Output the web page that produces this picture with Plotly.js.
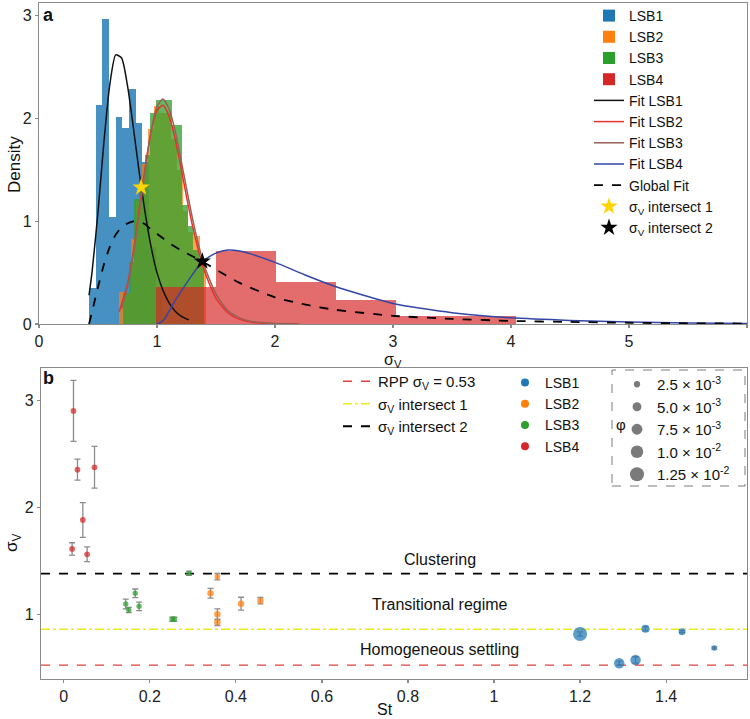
<!DOCTYPE html>
<html>
<head>
<meta charset="utf-8">
<script src="https://cdn.plot.ly/plotly-3.0.1.min.js"></script>
<style>
  html, body { margin: 0; padding: 0; background: #fff; }
  #chart { width: 750px; height: 719px; }
</style>
</head>
<body>
<div id="chart"></div>
<script>
// ---------- Panel a: velocity-fluctuation histograms (density) ----------
const lsb1Edges = [0.424, 0.4805, 0.537, 0.5935, 0.65, 0.7065, 0.763, 0.8195, 0.876, 0.9325, 0.989, 1.0455];
const lsb1Density = [0.35, 2.13, 2.97, 1.045, 2.02, 1.905, 2.285, 1.955, 1.58, 0.75, 0.35];

const lsb2Edges = [0.678, 0.727, 0.776, 0.825, 0.874, 0.923, 0.972, 1.021, 1.07, 1.119, 1.168, 1.217, 1.266, 1.315, 1.364, 1.413];
const lsb2Density = [0.31, 0.30, 0.83, 1.20, 1.56, 1.90, 2.12, 2.05, 2.05, 1.80, 1.50, 1.10, 0.90, 0.86, 0.62];

const lsb3Edges = [0.715, 0.7605, 0.806, 0.8515, 0.897, 0.9425, 0.988, 1.0335, 1.079, 1.1245, 1.17, 1.2155, 1.261, 1.3065, 1.352, 1.3975];
const lsb3Density = [0.30, 0.60, 1.22, 1.40, 1.65, 2.05, 2.18, 2.18, 2.18, 1.94, 1.94, 1.16, 0.95, 0.72, 0.58];

const lsb4Edges = [0.995, 1.503, 2.011, 2.519, 3.027, 3.535, 4.043];
const lsb4Density = [0.36, 0.71, 0.41, 0.23, 0.08, 0.08];

// fitted distributions
const fit1X = [0.424, 0.45, 0.5, 0.55, 0.6, 0.65, 0.7, 0.75, 0.8, 0.85, 0.9, 0.95, 1.0, 1.05, 1.1, 1.15, 1.2, 1.27];
const fit1Y = [0.28, 0.51, 1.09, 1.77, 2.33, 2.62, 2.59, 2.32, 1.91, 1.47, 1.08, 0.75, 0.50, 0.33, 0.21, 0.13, 0.08, 0.04];

const fit2X = [0.68, 0.75, 0.8, 0.85, 0.9, 0.95, 1.0, 1.05, 1.1, 1.15, 1.2, 1.25, 1.3, 1.35, 1.4, 1.5, 1.6, 1.7, 1.8, 2.0, 2.2];
const fit2Y = [0.12, 0.39, 0.71, 1.12, 1.53, 1.87, 2.08, 2.13, 2.03, 1.82, 1.54, 1.24, 0.96, 0.72, 0.52, 0.25, 0.11, 0.045, 0.018, 0.003, 0.0];

const fit3X = [0.7, 0.75, 0.8, 0.85, 0.9, 0.95, 1.0, 1.05, 1.1, 1.15, 1.2, 1.25, 1.3, 1.35, 1.4, 1.5, 1.6, 1.7, 1.8, 2.0, 2.2];
const fit3Y = [0.15, 0.36, 0.68, 1.08, 1.50, 1.88, 2.12, 2.19, 2.10, 1.90, 1.62, 1.32, 1.03, 0.78, 0.57, 0.29, 0.13, 0.06, 0.025, 0.005, 0.001];

const fit4X = [1.0, 1.05, 1.1, 1.15, 1.2, 1.3, 1.384, 1.5, 1.6, 1.7, 1.8, 2.0, 2.25, 2.5, 2.75, 3.0, 3.25, 3.5, 4.0, 4.5, 5.0, 5.5, 6.0];
const fit4Y = [0.0, 0.03, 0.12, 0.22, 0.31, 0.48, 0.61, 0.69, 0.72, 0.71, 0.68, 0.60, 0.48, 0.37, 0.28, 0.20, 0.15, 0.11, 0.06, 0.035, 0.02, 0.01, 0.005];

const globalX = [0.424, 0.45, 0.5, 0.55, 0.6, 0.65, 0.7, 0.75, 0.8, 0.85, 0.9, 0.95, 1.0, 1.1, 1.2, 1.3, 1.384, 1.5, 1.7, 2.0, 2.25, 2.5, 3.0, 3.5, 4.0, 4.5, 5.0, 5.5, 6.0];
const globalY = [0.0, 0.12, 0.36, 0.58, 0.75, 0.87, 0.94, 0.98, 1.0, 1.0, 0.97, 0.92, 0.88, 0.79, 0.72, 0.66, 0.61, 0.53, 0.40, 0.26, 0.19, 0.14, 0.08, 0.05, 0.03, 0.02, 0.012, 0.007, 0.004];

// intersections of the fitted curves
const intersect1 = { sigma: 0.865, density: 1.33 };
const intersect2 = { sigma: 1.384, density: 0.61 };

// ---------- Panel b: sigma_v against Stokes number ----------
const rppSigma = 0.53;

const lsb1St    = [1.2, 1.291, 1.329, 1.352, 1.437, 1.512];
const lsb1Sigma = [0.821, 0.547, 0.578, 0.870, 0.842, 0.690];
const lsb1Err   = [0.02, 0.02, 0.03, 0.02, 0.01, 0.01];
const lsb1Phi   = [0.0125, 0.0070, 0.0070, 0.0041, 0.0031, 0.0019];

const lsb2St    = [0.357, 0.341, 0.357, 0.357, 0.412, 0.457];
const lsb2Sigma = [1.356, 1.201, 1.005, 0.930, 1.104, 1.132];
const lsb2Err   = [0.03, 0.045, 0.05, 0.03, 0.06, 0.03];
const lsb2Phi   = [0.0020, 0.0027, 0.0027, 0.0027, 0.0027, 0.0027];

const lsb3St    = [0.144, 0.151, 0.166, 0.175, 0.252, 0.257, 0.291];
const lsb3Sigma = [1.101, 1.045, 1.201, 1.079, 0.958, 0.958, 1.388];
const lsb3Err   = [0.045, 0.025, 0.04, 0.04, 0.02, 0.02, 0.02];
const lsb3Phi   = [0.0019, 0.0019, 0.0019, 0.0019, 0.0019, 0.0019, 0.0016];

const lsb4St    = [0.0225, 0.0318, 0.0714, 0.0442, 0.0193, 0.0542];
const lsb4Sigma = [2.905, 2.356, 2.378, 1.886, 1.615, 1.565];
const lsb4Err   = [0.285, 0.098, 0.195, 0.162, 0.058, 0.069];
const lsb4Phi   = [0.0021, 0.0021, 0.0021, 0.0021, 0.0021, 0.0021];

const phiLegendValues = [0.0025, 0.005, 0.0075, 0.01, 0.0125];
const phiLegendLabels = ['2.5 × 10<sup>-3</sup>', '5.0 × 10<sup>-3</sup>', '7.5 × 10<sup>-3</sup>',
                         '1.0 × 10<sup>-2</sup>', '1.25 × 10<sup>-2</sup>'];

// ---------- styling ----------
const FONT = '"Liberation Sans", Arial, Helvetica, sans-serif';
const TAB = { blue: '#1f77b4', orange: '#ff7f0e', green: '#2ca02c', red: '#d62728' };
const AXIS_GREY = '#8a8a8a';
const stRange = [-0.053, 1.588];
const sigmaRangeB = [0.40, 3.306];

// marker diameter grows with the square root of the volume fraction
const phiToSize = phi => 125 * Math.sqrt(phi);

const centers = e => e.slice(0, -1).map((v, i) => (v + e[i + 1]) / 2);
const widths  = e => e.slice(0, -1).map((v, i) => e[i + 1] - v);

const traces = [];

// histograms
[
  ['LSB1', lsb1Edges, lsb1Density, TAB.blue, 0.82],
  ['LSB2', lsb2Edges, lsb2Density, TAB.orange, 0.72],
  ['LSB3', lsb3Edges, lsb3Density, TAB.green, 0.75],
  ['LSB4', lsb4Edges, lsb4Density, TAB.red, 0.68]
].forEach(([name, edges, dens, color, op]) => {
  traces.push({
    type: 'bar', name, x: centers(edges), y: dens, width: widths(edges),
    marker: { color, opacity: op, line: { width: 0 } },
    xaxis: 'x', yaxis: 'y', legend: 'legend', hoverinfo: 'skip'
  });
});

// fitted curves
[
  ['Fit LSB1', fit1X, fit1Y, '#111111', 'solid'],
  ['Fit LSB2', fit2X, fit2Y, '#e8322b', 'solid'],
  ['Fit LSB3', fit3X, fit3Y, '#9a5f55', 'solid'],
  ['Fit LSB4', fit4X, fit4Y, '#3346a6', 'solid'],
  ['Global Fit', globalX, globalY, '#000000', 'dash']
].forEach(([name, x, y, color, dash]) => {
  traces.push({
    type: 'scatter', mode: 'lines', name, x, y,
    line: { color, width: dash === 'dash' ? 1.8 : 1.5, dash, shape: 'spline', smoothing: 0.6 },
    xaxis: 'x', yaxis: 'y', legend: 'legend', hoverinfo: 'skip'
  });
});

// intersection stars
traces.push({
  type: 'scatter', mode: 'markers', name: 'σ<sub>V</sub> intersect 1',
  x: [intersect1.sigma], y: [intersect1.density],
  marker: { symbol: 'star', size: 13, color: '#FFD400', line: { width: 0 } },
  xaxis: 'x', yaxis: 'y', legend: 'legend'
});
traces.push({
  type: 'scatter', mode: 'markers', name: 'σ<sub>V</sub> intersect 2',
  x: [intersect2.sigma], y: [intersect2.density],
  marker: { symbol: 'star', size: 13, color: '#000000', line: { width: 0 } },
  xaxis: 'x', yaxis: 'y', legend: 'legend'
});

// regime boundaries in panel b
[
  ['RPP σ<sub>V</sub> = 0.53', rppSigma, '#e0403a', 'dash', 1.4],
  ['σ<sub>V</sub> intersect 1', intersect1.sigma, '#ecec1a', 'dashdot', 1.6],
  ['σ<sub>V</sub> intersect 2', intersect2.sigma, '#000000', 'dash', 1.8]
].forEach(([name, v, color, dash, w], i) => {
  traces.push({
    type: 'scatter', mode: 'lines', name, x: stRange, y: [v, v],
    line: { color, dash, width: w },
    xaxis: 'x2', yaxis: 'y2', legend: 'legend2', legendgroup: 'g' + i, hoverinfo: 'skip'
  });
});

// measurements with error bars
[
  ['LSB1', lsb1St, lsb1Sigma, lsb1Err, lsb1Phi, TAB.blue],
  ['LSB2', lsb2St, lsb2Sigma, lsb2Err, lsb2Phi, TAB.orange],
  ['LSB3', lsb3St, lsb3Sigma, lsb3Err, lsb3Phi, TAB.green],
  ['LSB4', lsb4St, lsb4Sigma, lsb4Err, lsb4Phi, TAB.red]
].forEach(([name, st, sig, err, phi, color]) => {
  traces.push({
    type: 'scatter', mode: 'markers', name, x: st, y: sig,
    error_y: { type: 'data', array: err, visible: true, color: '#8c8c8c', thickness: 1.3, width: 3 },
    marker: { color, size: phi.map(phiToSize), opacity: 0.72, line: { width: 0 } },
    xaxis: 'x2', yaxis: 'y2', showlegend: false
  });
  // legend entry for the series colour
  traces.push({
    type: 'scatter', mode: 'markers', name, x: [null], y: [null],
    marker: { color, size: 8 },
    xaxis: 'x2', yaxis: 'y2', legend: 'legend3'
  });
});

// size key for the volume fraction
phiLegendValues.forEach((phi, i) => {
  traces.push({
    type: 'scatter', mode: 'markers', name: phiLegendLabels[i], x: [null], y: [null],
    marker: { color: '#7a7a7a', size: phiToSize(phi) },
    xaxis: 'x2', yaxis: 'y2', legend: 'legend4'
  });
});

const axisCommon = {
  showline: true, linecolor: AXIS_GREY, linewidth: 1.2, mirror: true,
  ticks: 'outside', ticklen: 3, tickcolor: AXIS_GREY, tickwidth: 1.2,
  showgrid: false, zeroline: false,
  tickfont: { family: FONT, size: 16, color: '#222' }
};

const W = 750, H = 719;
const px = x => x / W;
const py = y => 1 - y / H;

// free-standing text placed in figure pixels
const label = (text, x, y, size, extra) => Object.assign({
  text, xref: 'paper', yref: 'paper', x: px(x), y: py(y),
  xanchor: 'center', yanchor: 'middle', showarrow: false, font: { size }
}, extra || {});

const regionLabel = (text, y) => ({
  text, xref: 'x2', yref: 'y2', x: 0.874, y,
  xanchor: 'center', yanchor: 'middle', showarrow: false, font: { size: 16 }
});

const layout = {
  width: W, height: H,
  margin: { l: 0, r: 0, t: 0, b: 0, autoexpand: false },
  paper_bgcolor: '#ffffff', plot_bgcolor: '#ffffff',
  font: { family: FONT, size: 15, color: '#111' },
  barmode: 'overlay', bargap: 0,
  xaxis: Object.assign({}, axisCommon, {
    domain: [px(39), px(747)], range: [0, 6], anchor: 'y',
    tickvals: [0, 1, 2, 3, 4, 5, 6]
  }),
  yaxis: Object.assign({}, axisCommon, {
    domain: [py(324), py(3)], range: [0, 3.125], anchor: 'x',
    tickvals: [0, 1, 2, 3]
  }),
  xaxis2: Object.assign({}, axisCommon, {
    domain: [px(41), px(747)], range: stRange, anchor: 'y2',
    tickvals: [0, 0.2, 0.4, 0.6, 0.8, 1, 1.2, 1.4],
    ticktext: ['0', '0.2', '0.4', '0.6', '0.8', '1', '1.2', '1.4']
  }),
  yaxis2: Object.assign({}, axisCommon, {
    domain: [py(679), py(368)], range: sigmaRangeB, anchor: 'x2',
    tickvals: [1, 2, 3]
  }),
  legend: {
    x: px(589), y: py(0), xanchor: 'left', yanchor: 'top',
    bgcolor: 'rgba(0,0,0,0)', borderwidth: 0, traceorder: 'normal',
    font: { family: FONT, size: 14, color: '#111' }, itemwidth: 30, tracegroupgap: 0
  },
  legend2: {
    x: px(338), y: py(365), xanchor: 'left', yanchor: 'top',
    bgcolor: 'rgba(0,0,0,0)', borderwidth: 0, traceorder: 'normal',
    font: { family: FONT, size: 15, color: '#111' }, itemwidth: 30, tracegroupgap: 2
  },
  legend3: {
    x: px(505), y: py(367), xanchor: 'left', yanchor: 'top',
    bgcolor: 'rgba(0,0,0,0)', borderwidth: 0, traceorder: 'normal',
    font: { family: FONT, size: 14, color: '#111' }, itemwidth: 30
  },
  legend4: {
    x: px(617), y: py(368), xanchor: 'left', yanchor: 'top',
    bgcolor: 'rgba(0,0,0,0)', borderwidth: 0, traceorder: 'normal',
    font: { family: FONT, size: 15, color: '#111' }, itemwidth: 30, itemsizing: 'trace'
  },
  shapes: [
    { type: 'rect', xref: 'paper', yref: 'paper', x0: px(612), x1: px(745), y0: py(486), y1: py(370),
      line: { color: '#7a7a7a', width: 1, dash: 'dash' }, fillcolor: 'rgba(0,0,0,0)' }
  ],
  annotations: [
    label('<b>a</b>', 49, 15, 18),
    label('<b>b</b>', 49, 378, 18),
    label('Density', 15, 165, 17, { textangle: -90 }),
    label('σ<sub>V</sub>', 393, 360, 16),
    label('σ<sub>V</sub>', 13, 543, 17, { textangle: -90 }),
    label('St', 385, 709, 16),
    label('φ', 621, 424, 15),
    regionLabel('Clustering', 1.512),
    regionLabel('Transitional regime', 1.098),
    regionLabel('Homogeneous settling', 0.677)
  ]
};

Plotly.newPlot('chart', traces, layout, { staticPlot: true, displayModeBar: false });
</script>
</body>
</html>
